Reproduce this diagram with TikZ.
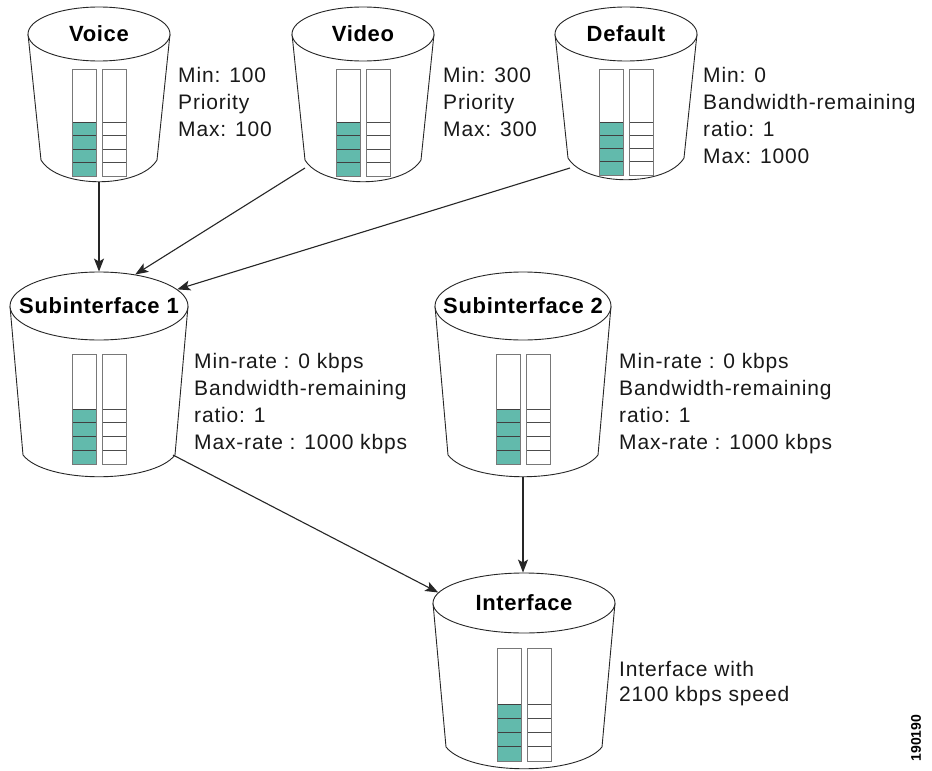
\documentclass[tikz,border=0pt]{standalone}
\usepackage{fontspec}
\setmainfont{Liberation Sans}
\newfontfamily\infofont[LetterSpace=4]{Liberation Sans}
\newfontfamily\titlefont[LetterSpace=3]{Liberation Sans}
\usetikzlibrary{shapes.geometric,arrows.meta}
\definecolor{qteal}{RGB}{98,186,172}
\definecolor{bargray}{RGB}{120,120,120}
\tikzset{
  bucketline/.style={draw=black!85, line width=0.9pt},
  topell/.style={ellipse, draw=black!85, line width=0.9pt, fill=white, inner sep=0pt},
  titlestyle/.style={font=\titlefont\bfseries\fontsize{22}{24}\selectfont, inner sep=0pt},
  arrowline/.style={draw=black!85, line width=1.1pt, -{Stealth[length=13pt,width=10pt,inset=3pt]}},
  infotext/.style={anchor=north west, inner sep=0pt, align=left, text=black!90,
    font=\infofont\fontsize{21}{27}\selectfont},
  celldark/.style={draw=black!75, line width=0.9pt},
  cellgray/.style={draw=black!70, line width=0.8pt},
  barframe/.style={draw=bargray, line width=0.9pt},
  serial/.style={font=\bfseries\fontsize{14}{14}\selectfont, rotate=90, inner sep=0pt}
}
% #1 name, #2 cx, #3 cy, #4 rx, #5 ry, #6 bottom y, #7 bar top, #8 bar bottom, #9 title
\newcommand{\qbucket}[9]{%
  \draw[bucketline] ({#2-#4},#3) -- ({#2-#4+13},{#6-22})
     .. controls ({#2-#4+13+0.15*(2*#4-26)},{#6+7}) and ({#2+#4-13-0.15*(2*#4-26)},{#6+7})
     .. ({#2+#4-13},{#6-22}) -- ({#2+#4},#3);
  \pgfmathsetmacro\qmid{(#7+#8)/2}
  \pgfmathsetmacro\qh{(#8-#7)/8}
  \fill[qteal] ({#2-27},\qmid) rectangle ({#2-3},#8);
  \foreach \k in {0,1,2,3} {
    \draw[celldark] ({#2-27},{\qmid+\k*\qh}) -- ({#2-3},{\qmid+\k*\qh});
    \draw[cellgray] ({#2+3},{\qmid+\k*\qh}) -- ({#2+27},{\qmid+\k*\qh});
  }
  \draw[barframe] ({#2-27},#7) rectangle ({#2-3},#8);
  \draw[barframe] ({#2+3},#7) rectangle ({#2+27},#8);
  \node[topell, minimum width={2*#4}, minimum height={2*#5},
        label={[titlestyle]center:#9}] (#1) at (#2,#3) {};
  \coordinate (#1-bot) at (#2,#6);
}
\begin{document}
\begin{tikzpicture}[x=1pt,y=-1pt]
\fill[white] (0,0) rectangle (932,771);
\useasboundingbox (0,0) rectangle (932,771);

\qbucket{voice}{99}{34}{71}{27}{182}{69}{176}{Voice}
\qbucket{video}{363}{34}{71}{27}{182}{69}{176}{Video}
\qbucket{default}{626}{34}{71}{27}{180}{69}{175}{Default}
\qbucket{sub1}{99}{306}{89}{34}{477}{354}{464}{Subinterface 1}
\qbucket{sub2}{523}{306}{88}{34}{477}{354}{464}{Subinterface 2}
\qbucket{iface}{524}{603}{91}{30}{769}{648}{761}{Interface}

\node[infotext] (voiceinfo) at (178,67) {Min: 100\\Priority\\Max: 100};
\node[infotext] (videoinfo) at (443,67) {Min: 300\\Priority\\Max: 300};
\node[infotext] (defaultinfo) at (703,67) {Min: 0\\Bandwidth-remaining\\ratio: 1\\Max: 1000};
\node[infotext] (sub1info) at (194,353) {Min-rate : 0 kbps\\Bandwidth-remaining\\ratio: 1\\Max-rate : 1000 kbps};
\node[infotext] (sub2info) at (619,353) {Min-rate : 0 kbps\\Bandwidth-remaining\\ratio: 1\\Max-rate : 1000 kbps};
\node[infotext, font=\infofont\fontsize{21}{25}\selectfont] (ifaceinfo) at (619,661) {Interface with\\2100 kbps speed};

\node[serial] (serialno) at (916,738) {190190};

\coordinate (videoout) at (305,168);
\coordinate (defaultout) at (570,168);
\coordinate (sub1out) at (173,455);

\draw[arrowline] (voice-bot) -- (voice-bot |- sub1.north);
\draw[arrowline] (videoout) -- (sub1.41);
\draw[arrowline] (defaultout) -- (sub1.12);
\draw[arrowline] (sub1out) -- (iface.173);
\draw[arrowline] (sub2-bot) -- (sub2-bot |- iface.north);
\end{tikzpicture}
\end{document}
